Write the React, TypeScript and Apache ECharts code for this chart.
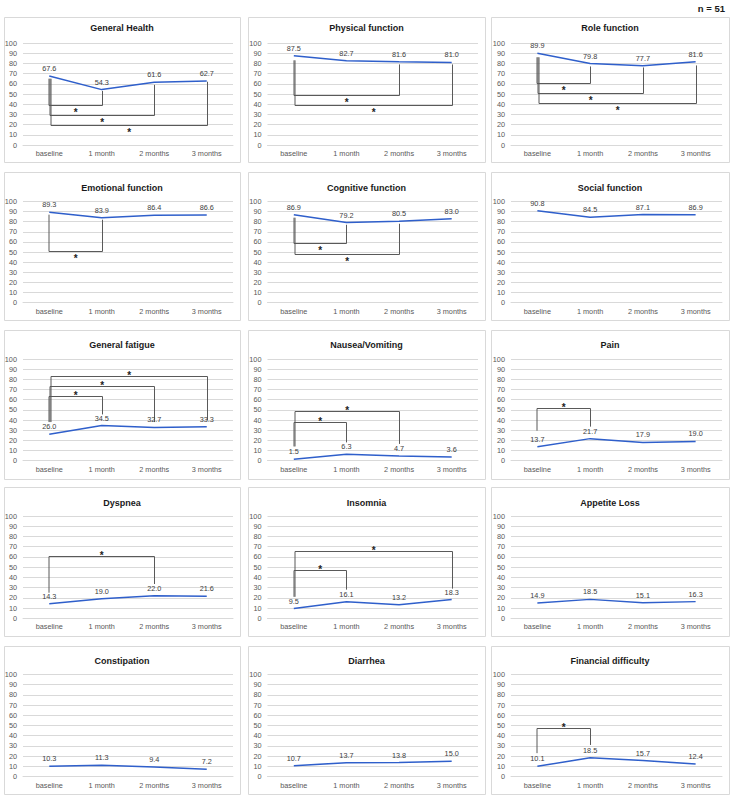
import React, { useEffect, useRef } from "react";
import * as echarts from "echarts";

// ---------- data ----------
const categories = ["baseline", "1 month", "2 months", "3 months"];

const panelTitles = [
  "General Health", "Physical function", "Role function",
  "Emotional function", "Cognitive function", "Social function",
  "General fatigue", "Nausea/Vomiting", "Pain",
  "Dyspnea", "Insomnia", "Appetite Loss",
  "Constipation", "Diarrhea", "Financial difficulty",
];

const generalHealth = [67.6, 54.3, 61.6, 62.7];
const physicalFunction = [87.5, 82.7, 81.6, 81.0];
const roleFunction = [89.9, 79.8, 77.7, 81.6];
const emotionalFunction = [89.3, 83.9, 86.4, 86.6];
const cognitiveFunction = [86.9, 79.2, 80.5, 83.0];
const socialFunction = [90.8, 84.5, 87.1, 86.9];
const generalFatigue = [26.0, 34.5, 32.7, 33.3];
const nauseaVomiting = [1.5, 6.3, 4.7, 3.6];
const pain = [13.7, 21.7, 17.9, 19.0];
const dyspnea = [14.3, 19.0, 22.0, 21.6];
const insomnia = [9.5, 16.1, 13.2, 18.3];
const appetiteLoss = [14.9, 18.5, 15.1, 16.3];
const constipation = [10.3, 11.3, 9.4, 7.2];
const diarrhea = [10.7, 13.7, 13.8, 15.0];
const financialDifficulty = [10.1, 18.5, 15.7, 12.4];

// significance brackets: [fromIndex, toIndex, fromEndValue, toEndValue, barValue]
const generalHealthBrackets = [[0, 1, 65, 53, 39.5], [0, 2, 65, 59, 29], [0, 3, 65, 62, 19.5]];
const physicalBrackets = [[0, 2, 83, 79, 49], [0, 3, 83, 79, 39]];
const roleBrackets = [[0, 1, 86, 77, 61], [0, 2, 86, 76, 50.5], [0, 3, 86, 78, 41]];
const emotionalBrackets = [[0, 1, 87, 82, 51.5]];
const cognitiveBrackets = [[0, 1, 84, 77, 59], [0, 2, 84, 78, 48]];
const socialBrackets: number[][] = [];
const fatigueBrackets = [[0, 1, 38, 45.5, 63.5], [0, 2, 38, 38, 73.5], [0, 3, 38, 40, 83.5]];
const nauseaBrackets = [[0, 1, 14, 18, 38.5], [0, 2, 14, 16.5, 49]];
const painBrackets = [[0, 1, 29.5, 33.5, 52]];
const dyspneaBrackets = [[0, 2, 25, 33.5, 61]];
const insomniaBrackets = [[0, 1, 21, 28, 47], [0, 3, 21, 29, 66]];
const appetiteBrackets: number[][] = [];
const constipationBrackets: number[][] = [];
const diarrheaBrackets: number[][] = [];
const financialBrackets = [[0, 1, 23, 31, 48]];

const panelValues = [
  generalHealth, physicalFunction, roleFunction,
  emotionalFunction, cognitiveFunction, socialFunction,
  generalFatigue, nauseaVomiting, pain,
  dyspnea, insomnia, appetiteLoss,
  constipation, diarrhea, financialDifficulty,
];
const panelBrackets = [
  generalHealthBrackets, physicalBrackets, roleBrackets,
  emotionalBrackets, cognitiveBrackets, socialBrackets,
  fatigueBrackets, nauseaBrackets, painBrackets,
  dyspneaBrackets, insomniaBrackets, appetiteBrackets,
  constipationBrackets, diarrheaBrackets, financialBrackets,
];

const sampleNote = "n = 51";

// ---------- layout ----------
const colBox = [[4, 240], [248, 485], [491, 729]];
const colGrid = [[23, 233], [267.5, 478], [511, 722]];
const rowBox = [[17, 162], [172, 320], [330, 479], [487, 636], [646, 794]];
const rowTitle = [28, 188, 345, 502.7, 660.7];
const rowGrid = [[43, 145], [201.5, 302.7], [359, 460.7], [516, 618.3], [674.3, 776.7]];

const FONT = '"Liberation Sans", Arial, Helvetica, sans-serif';
const BLUE = "#2F5FCB";
const GRID = "#d9d9d9";
const BRACKET = "#595959";

function buildOption() {
  const grid: any[] = [];
  const xAxis: any[] = [];
  const yAxis: any[] = [];
  const series: any[] = [];
  const graphic: any[] = [];

  panelTitles.forEach((title, k) => {
    const r = Math.floor(k / 3);
    const c = k % 3;
    const [bx0, bx1] = colBox[c];
    const [by0, by1] = rowBox[r];
    graphic.push({
      type: "rect",
      silent: true,
      z: -1,
      shape: { x: bx0 + 0.5, y: by0 + 0.5, width: bx1 - bx0, height: by1 - by0 },
      style: { fill: "#fff", stroke: GRID, lineWidth: 1 },
    });
    graphic.push({
      type: "text",
      silent: true,
      x: (bx0 + bx1) / 2,
      y: rowTitle[r],
      style: {
        text: title,
        align: "center",
        verticalAlign: "middle",
        fill: "#1a1a1a",
        font: `bold 9px ${FONT}`,
      },
    });

    const [gx0, gx1] = colGrid[c];
    const [gy0, gy1] = rowGrid[r];
    grid.push({ left: gx0, top: gy0, width: gx1 - gx0, height: gy1 - gy0 });
    xAxis.push({
      gridIndex: k,
      type: "category",
      data: categories,
      boundaryGap: true,
      axisLine: { show: true, lineStyle: { color: GRID, width: 1 } },
      axisTick: { show: false },
      axisLabel: { color: "#595959", fontSize: 7.3, fontFamily: FONT, margin: 5, interval: 0 },
    });
    yAxis.push({
      gridIndex: k,
      type: "value",
      min: 0,
      max: 100,
      interval: 10,
      axisLine: { show: false },
      axisTick: { show: false },
      splitLine: { show: true, lineStyle: { color: GRID, width: 1 } },
      axisLabel: { color: "#595959", fontSize: 7.3, fontFamily: FONT, margin: 6 },
    });
    series.push({
      type: "line",
      xAxisIndex: k,
      yAxisIndex: k,
      data: panelValues[k],
      symbol: "circle",
      symbolSize: 2,
      itemStyle: { color: "rgba(0,0,0,0)" },
      lineStyle: { color: BLUE, width: 1.5 },
      label: {
        show: true,
        position: "top",
        distance: 3,
        color: "#404040",
        fontSize: 7.3,
        fontFamily: FONT,
        formatter: (p: any) => Number(p.value).toFixed(1),
      },
      z: 3,
    });
    const brackets = panelBrackets[k];
    if (brackets.length) {
      series.push({
        type: "custom",
        xAxisIndex: k,
        yAxisIndex: k,
        data: brackets,
        silent: true,
        clip: false,
        z: 2,
        encode: { x: 0, y: 4 },
        renderItem: (params: any, api: any) => {
          const b = brackets[params.dataIndex];
          const [i, j, aVal, bVal, barVal] = b;
          const pA = api.coord([i, aVal]);
          const pBar = api.coord([i, barVal]);
          const pB = api.coord([j, bVal]);
          const xi = Math.round(pA[0]) + 0.5 + (params.dataIndex - 0.5);
          const xj = Math.round(pB[0]) + 0.5;
          const yb = Math.round(pBar[1]) + 0.5;
          const up = barVal > aVal;
          return {
            type: "group",
            children: [
              {
                type: "polyline",
                shape: { points: [[xi, pA[1]], [xi, yb], [xj, yb], [xj, pB[1]]] },
                style: { stroke: BRACKET, lineWidth: 1, fill: "none" },
              },
              {
                type: "text",
                style: {
                  text: "*",
                  x: (xi + xj) / 2,
                  y: up ? yb - 1 : yb + 7,
                  align: "center",
                  verticalAlign: "middle",
                  fill: "#222",
                  font: `bold 10px ${FONT}`,
                },
              },
            ],
          };
        },
      });
    }
  });

  graphic.push({
    type: "text",
    silent: true,
    x: 725,
    y: 8,
    style: {
      text: sampleNote,
      align: "right",
      verticalAlign: "middle",
      fill: "#1a1a1a",
      font: `bold 9.5px ${FONT}`,
    },
  });

  return {
    animation: false,
    backgroundColor: "#ffffff",
    textStyle: { fontFamily: FONT },
    grid,
    xAxis,
    yAxis,
    series,
    graphic,
  };
}

export default function App() {
  const ref = useRef<HTMLDivElement>(null);
  useEffect(() => {
    if (!ref.current) return;
    const chart = echarts.init(ref.current, undefined, { renderer: "svg" });
    chart.setOption(buildOption() as any);
    return () => chart.dispose();
  }, []);
  return (
    <div
      ref={ref}
      style={{ position: "absolute", left: 0, top: 0, width: 733, height: 798, background: "#fff" }}
    />
  );
}
